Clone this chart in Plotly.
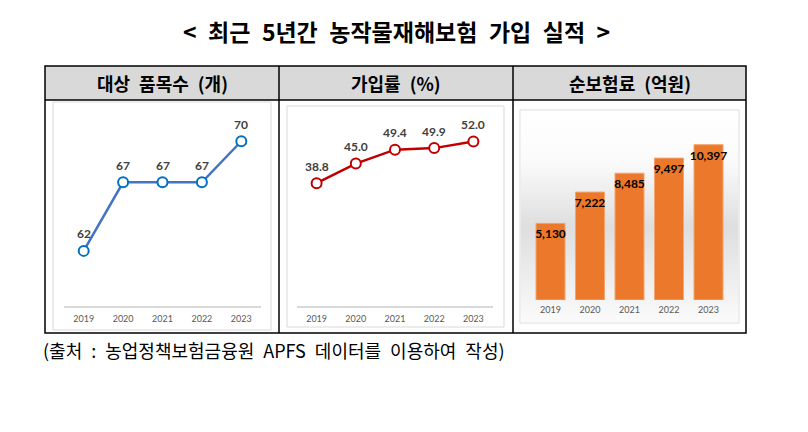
import plotly.graph_objects as go

# ---------------- data ----------------
years = ["2019", "2020", "2021", "2022", "2023"]
items = [62, 67, 67, 67, 70]                 # 대상 품목수 (개)
rate = [38.8, 45.0, 49.4, 49.9, 52.0]        # 가입률 (%)
premium = [5130, 7222, 8485, 9497, 10397]    # 순보험료 (억원)

title_text = "< 최근 5년간 농작물재해보험 가입 실적 >"
headers = ["대상 품목수 (개)", "가입률 (%)", "순보험료 (억원)"]
source_text = "(출처 : 농업정책보험금융원 APFS 데이터를 이용하여 작성)"

# ---------------- layout helpers ----------------
W, H = 808, 432
def px(x):
    return x / W
def py(y):
    return 1 - y / H

def wide(s):
    # the reference typesetting uses wide word spaces
    return s.replace(" ", "\u2002")

KR = "Noto Sans CJK KR"
NUM = "Lato"
TICK_FONT = dict(family=NUM, size=9, color="#595959")
LABEL_FONT = dict(family=NUM, size=12, color="#404040", weight="bold")

fig = go.Figure()

# Panel 1 : line (items)
fig.add_trace(go.Scatter(
    x=years, y=items, mode="lines+markers", xaxis="x", yaxis="y",
    line=dict(color="#4472c4", width=2.5),
    marker=dict(symbol="circle", size=10, color="white",
                line=dict(color="#0070c0", width=2)),
    cliponaxis=False, hoverinfo="skip", showlegend=False))

# Panel 2 : line (rate)
fig.add_trace(go.Scatter(
    x=years, y=rate, mode="lines+markers", xaxis="x2", yaxis="y2",
    line=dict(color="#c00000", width=2.5),
    marker=dict(symbol="circle", size=10, color="white",
                line=dict(color="#c00000", width=2)),
    cliponaxis=False, hoverinfo="skip", showlegend=False))

# Panel 3 background gradient
fig.add_trace(go.Scatter(
    x=[0, 1, 1, 0, 0], y=[0, 0, 1, 1, 0], xaxis="x3", yaxis="y3",
    mode="lines", line=dict(width=0), fill="toself",
    fillgradient=dict(type="vertical", start=0, stop=1,
                      colorscale=[[0, "#fbfbfb"], [0.12, "#f3f3f3"],
                                  [0.45, "#dedede"], [0.75, "#fafafa"],
                                  [1, "#ffffff"]]),
    hoverinfo="skip", showlegend=False))

# Panel 3 : bars (premium)
fig.add_trace(go.Bar(
    x=years, y=premium, xaxis="x4", yaxis="y4",
    marker=dict(color="#ec782b", line=dict(color="#f4a46c", width=1)),
    text=[f"{v:,}" for v in premium], textposition="inside",
    insidetextanchor="end", constraintext="none", textangle=0,
    textfont=dict(family=NUM, size=12, color="black", weight="bold"),
    cliponaxis=False, hoverinfo="skip", showlegend=False))

ydom_line = [py(305.7), py(120)]
common_x = dict(type="category", categoryorder="array", categoryarray=years,
                range=[-0.5, len(years) - 0.5], autorange=False,
                showgrid=False, zeroline=False, ticks="",
                tickfont=TICK_FONT, fixedrange=True, ticklabelstandoff=3)
hidden_y = dict(showgrid=False, zeroline=False, showticklabels=False,
                showline=False, fixedrange=True)

layout = dict(
    width=W, height=H, margin=dict(l=0, r=0, t=0, b=0),
    paper_bgcolor="white", plot_bgcolor="rgba(0,0,0,0)",
    bargap=0.266,
    xaxis=dict(domain=[px(64), px(261)], anchor="y", showline=True,
               linecolor="#d9d9d9", linewidth=2, **common_x),
    yaxis=dict(domain=ydom_line, anchor="x", range=[58.0, 71.55], **hidden_y),
    xaxis2=dict(domain=[px(297), px(493)], anchor="y2", showline=True,
                linecolor="#d9d9d9", linewidth=2, **common_x),
    yaxis2=dict(domain=ydom_line, anchor="x2", range=[0, 58.8], **hidden_y),
    xaxis3=dict(domain=[px(520.5), px(738.5)], anchor="y3", range=[0, 1],
                visible=False, fixedrange=True),
    yaxis3=dict(domain=[py(322.5), py(110.5)], anchor="x3", range=[0, 1],
                visible=False, fixedrange=True),
    xaxis4=dict(domain=[px(530.75), px(728.25)], anchor="y4", showline=False,
                **common_x),
    yaxis4=dict(domain=[py(300), py(120)], anchor="x4", range=[0, 12048],
                **hidden_y),
)
fig.update_layout(**layout)

# data labels above line points (x given as category index)
for i, yv in enumerate(items):
    fig.add_annotation(x=i, y=yv, xref="x", yref="y", text=f"{yv}",
                       showarrow=False, yshift=17, font=LABEL_FONT)
for i, yv in enumerate(rate):
    fig.add_annotation(x=i, y=yv, xref="x2", yref="y2", text=f"{yv:.1f}",
                       showarrow=False, yshift=17, font=LABEL_FONT)

# title, headers, source
fig.add_annotation(x=px(396), y=py(31.5), xref="paper", yref="paper",
                   text=wide(title_text), showarrow=False, xanchor="center",
                   yanchor="middle",
                   font=dict(family=KR, size=23, color="black", weight="bold"))
col_centers = [162, 396, 629.5]
for cx, t in zip(col_centers, headers):
    fig.add_annotation(x=px(cx), y=py(82.5), xref="paper", yref="paper",
                       text=wide(t), showarrow=False, xanchor="center",
                       yanchor="middle",
                       font=dict(family=KR, size=18, color="black",
                                 weight="bold"))
fig.add_annotation(x=px(41), y=py(350), xref="paper", yref="paper",
                   text=wide(source_text), showarrow=False, xanchor="left",
                   yanchor="middle",
                   font=dict(family=KR, size=18, color="black"))

# shapes: header fill, panel frames, table lines
shapes = []
shapes.append(dict(type="rect", xref="paper", yref="paper",
                   x0=px(45), x1=px(746), y0=py(100), y1=py(66),
                   fillcolor="#d9d9d9", line=dict(width=0), layer="below"))
for (x0, y0, x1, y1) in [(53, 102, 271, 330), (287, 106, 504, 327),
                         (520, 110, 739, 323)]:
    shapes.append(dict(type="rect", xref="paper", yref="paper",
                       x0=px(x0), x1=px(x1), y0=py(y1), y1=py(y0),
                       fillcolor="rgba(0,0,0,0)",
                       line=dict(color="#d9d9d9", width=1), layer="below"))
line_black = dict(color="black", width=1.5)
shapes.append(dict(type="rect", xref="paper", yref="paper",
                   x0=px(45), x1=px(746), y0=py(333), y1=py(66),
                   line=line_black, layer="above"))
shapes.append(dict(type="line", xref="paper", yref="paper",
                   x0=px(45), x1=px(746), y0=py(100), y1=py(100),
                   line=line_black, layer="above"))
for xv in (279, 513):
    shapes.append(dict(type="line", xref="paper", yref="paper",
                       x0=px(xv), x1=px(xv), y0=py(333), y1=py(66),
                       line=line_black, layer="above"))
fig.update_layout(shapes=shapes)

fig.write_html("out.html")
